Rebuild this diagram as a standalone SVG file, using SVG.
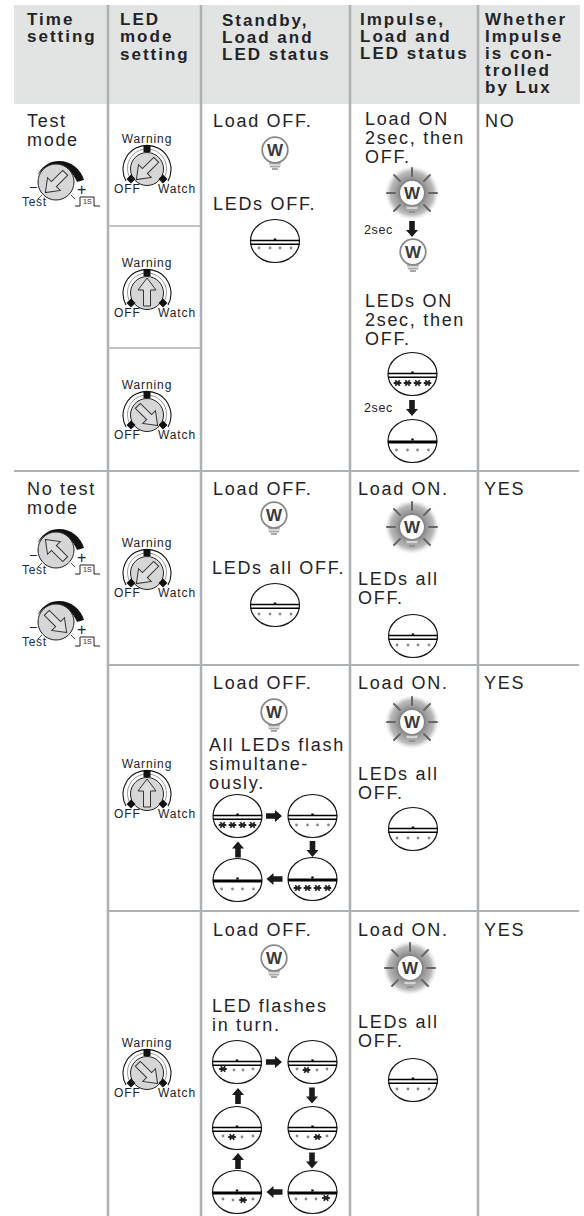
<svg xmlns="http://www.w3.org/2000/svg" width="584" height="1216" viewBox="0 0 584 1216">
<style>
text{font-family:"Liberation Sans",Arial,sans-serif;fill:#232326}
.h{font-weight:700;font-size:17px;letter-spacing:2px}
.b{font-size:18px;letter-spacing:1.7px}
.s{font-size:12.5px;letter-spacing:.6px}
.m{font-size:12px;letter-spacing:.9px}
.t{font-size:12px;letter-spacing:.7px;fill:#1d2a4a}
.grid{stroke:#adb1b3;fill:none}
.dome{fill:#fff;stroke:#111;stroke-width:1.2}
.dl{stroke:#000;stroke-width:1.6}
.dk{stroke:#000;stroke-width:3}
.bulb{fill:#fff;stroke:#888;stroke-width:1.8}
.ray{stroke:#666;stroke-width:2;stroke-linecap:round}
.disc{fill:#d6d6d6;stroke:#222;stroke-width:1}
.ptr{fill:#dedede;stroke:#333;stroke-width:1}
</style>
<defs>
<radialGradient id="halo"><stop offset="0.45" stop-color="#8a8a8a"/><stop offset="0.8" stop-color="#bbb"/><stop offset="1" stop-color="#ddd" stop-opacity="0"/></radialGradient>
<g id="star"><path d="M-3.800 0H3.800M-2.200 -2.800L2.200 2.800M2.200 -2.800L-2.200 2.800" stroke="#222" stroke-width="1.800"/></g>
<circle id="dot" r="1.400" fill="#888"/>
<path id="ar" d="M-8 -2.800H1V-6L8 0L1 6V2.800H-8Z" fill="#1a1a1a"/>
<g id="dome"><ellipse class="dome" rx="24.500" ry="21.500"/><path class="dl" d="M-24.500 -.5H24.500M-24.500 3.300H24.500"/><rect x="-1.200" y="-2.500" width="2.400" height="2" fill="#000"/></g>
<g id="domek"><ellipse class="dome" rx="24.500" ry="21.500"/><path class="dk" d="M-24.500 1H24.500"/><rect x="-1.200" y="-2.500" width="2.400" height="2" fill="#000"/></g>
<g id="d4"><use href="#dot" x="-16" y="9"/><use href="#dot" x="-5" y="9"/><use href="#dot" x="5" y="9"/><use href="#dot" x="16" y="9"/></g>
<g id="s4"><use href="#star" x="-15" y="9"/><use href="#star" x="-5" y="9"/><use href="#star" x="5" y="9"/><use href="#star" x="15" y="9"/></g>
<g id="bulb"><path d="M-6 12L-5 17.500H5L6 12Z" fill="#aaa"/><path d="M-5.500 15H5.500" stroke="#fff"/><path d="M-3 19H3" stroke="#888" stroke-width="1.500"/><circle class="bulb" r="12.800"/><text text-anchor="middle" y="6" style="font-size:17px;font-weight:700;fill:#3a3a3a">W</text></g>
<g id="lit"><circle r="27" fill="url(#halo)"/><path class="ray" d="M0 -17V-25M12 -12L18 -18M17 0H25M12 12L18 18M-12 12L-18 18M-17 0H-25M-12 -12L-18 -18"/><use href="#bulb"/></g>
<path id="ptr" class="ptr" d="M0 -15L9 -3H3.500V13H-3.500V-3H-9Z"/>
<g id="led">
<path d="M-21 12A24 24 0 1 1 21 12" fill="none" stroke="#111" stroke-width="1.100"/>
<path d="M-17 9A19.500 19.500 0 1 1 17 9" fill="none" stroke="#555" stroke-width=".6"/>
<circle class="disc" r="16.500"/>
<rect x="-3.500" y="-24" width="7" height="7" fill="#111"/>
<path d="M-16 5.500L-11.500 10L-16 14.500L-20.500 10ZM16 5.500L20.500 10L16 14.500L11.500 10Z" fill="#111"/>
<text class="m" x="0" y="-26" text-anchor="middle">Warning</text>
<text class="m" x="-33" y="24">OFF</text>
<text class="m" x="11" y="24">Watch</text>
</g>
<g id="time">
<path d="M-19 -6C-14 -17 -5 -21 3 -21C15 -21 25 -13 28 -2L21 0C17 -10 9 -17 0 -18C-8 -18 -14 -13 -19 -6Z" fill="#111"/>
<circle class="disc" r="18"/>
<path d="M-14 13L-18 17M15 13L19 17" stroke="#222" stroke-width=".8"/>
<text x="-27" y="10" style="font-size:14px">−</text>
<text x="21" y="13" style="font-size:16px">+</text>
<text class="t" x="-34" y="24">Test</text>
<path d="M19 24H24V15H38V24H44" fill="none" stroke="#222" stroke-width="1"/>
<text x="27" y="22" style="font-size:7px">1S</text>
</g>
</defs>

<g id="table">
<rect x="14" y="5" width="566" height="99" fill="#e2e3e3"/>
<path class="grid" stroke-width="2.500" d="M108 5V1216M201 5V1216M350 5V1216M478 5V1216"/>
<path class="grid" stroke-width="2.200" d="M14 471H579M108 665H579M108 911H579"/>
<path class="grid" stroke-width="1.600" d="M108 226H201M108 348H201"/>
</g>

<g id="header">
<text class="h" x="27" y="25">Time</text><text class="h" x="27" y="42">setting</text>
<text class="h" x="120" y="25">LED</text><text class="h" x="120" y="42">mode</text><text class="h" x="120" y="60">setting</text>
<text class="h" x="222" y="26">Standby,</text><text class="h" x="222" y="43">Load and</text><text class="h" x="222" y="60">LED status</text>
<text class="h" x="360" y="25">Impulse,</text><text class="h" x="360" y="42">Load and</text><text class="h" x="360" y="59">LED status</text>
<text class="h" x="485" y="25">Whether</text><text class="h" x="485" y="42">Impulse</text><text class="h" x="485" y="59">is con-</text><text class="h" x="485" y="76">trolled</text><text class="h" x="485" y="93">by Lux</text>
</g>

<g id="row-test">
<text class="b" x="27" y="127">Test</text><text class="b" x="27" y="146">mode</text>
<use href="#time" x="56" y="182"/><use href="#ptr" transform="translate(56 182) rotate(-135)"/>
<use href="#led" x="147" y="169"/><use href="#ptr" transform="translate(147 169) rotate(-135)"/>
<use href="#led" x="147" y="293"/><use href="#ptr" transform="translate(147 293)"/>
<use href="#led" x="147" y="415"/><use href="#ptr" transform="translate(147 415) rotate(135)"/>
<text class="b" x="213" y="127">Load OFF.</text>
<use href="#bulb" x="275" y="150"/>
<text class="b" x="213" y="210">LEDs OFF.</text>
<use href="#dome" x="275" y="241"/><use href="#d4" x="275" y="239"/>
<text class="b" x="365" y="125">Load ON</text><text class="b" x="365" y="144">2sec, then</text><text class="b" x="365" y="163">OFF.</text>
<use href="#lit" x="412" y="193"/>
<text class="s" x="364" y="234">2sec</text><use href="#ar" transform="translate(412 229) rotate(90)"/>
<use href="#bulb" x="413" y="252"/>
<text class="b" x="365" y="307">LEDs ON</text><text class="b" x="365" y="326">2sec, then</text><text class="b" x="365" y="345">OFF.</text>
<use href="#dome" x="412.500" y="374"/><use href="#s4" x="412.500" y="374"/>
<text class="s" x="364" y="412">2sec</text><use href="#ar" transform="translate(412 408) rotate(90)"/>
<use href="#domek" x="412.500" y="441"/><use href="#d4" x="412.500" y="441"/>
<text class="b" x="485" y="127">NO</text>
</g>

<g id="row-notest-1">
<text class="b" x="27" y="495">No test</text><text class="b" x="27" y="514">mode</text>
<use href="#time" x="56" y="550"/><use href="#ptr" transform="translate(56 550) rotate(-45)"/>
<use href="#time" x="56" y="622"/><use href="#ptr" transform="translate(56 622) rotate(135)"/>
<use href="#led" x="147" y="573"/><use href="#ptr" transform="translate(147 573) rotate(-135)"/>
<text class="b" x="213" y="495">Load OFF.</text>
<use href="#bulb" x="274" y="515"/>
<text class="b" x="212" y="574">LEDs all OFF.</text>
<use href="#dome" x="275" y="605"/><use href="#d4" x="275" y="605"/>
<text class="b" x="358" y="495">Load ON.</text>
<use href="#lit" x="412" y="527"/>
<text class="b" x="358" y="585">LEDs all</text><text class="b" x="358" y="604">OFF.</text>
<use href="#dome" x="413" y="636"/><use href="#d4" x="413" y="636"/>
<text class="b" x="484" y="495">YES</text>
</g>

<g id="row-notest-2">
<use href="#led" x="147" y="794"/><use href="#ptr" transform="translate(147 794)"/>
<text class="b" x="213" y="689">Load OFF.</text>
<use href="#bulb" x="274" y="712"/>
<text class="b" x="209" y="751">All LEDs flash</text><text class="b" x="209" y="770">simultane-</text><text class="b" x="209" y="789">ously.</text>
<use href="#dome" x="237.500" y="816"/><use href="#s4" x="237.500" y="816"/>
<use href="#ar" x="274" y="816"/>
<use href="#dome" x="312.500" y="816"/><use href="#d4" x="312.500" y="816"/>
<use href="#ar" transform="translate(312.500 849) rotate(90)"/>
<use href="#domek" x="312.500" y="879"/><use href="#s4" x="312.500" y="879"/>
<use href="#ar" transform="translate(274.500 879) rotate(180)"/>
<use href="#domek" x="237.500" y="880"/><use href="#d4" x="237.500" y="880"/>
<use href="#ar" transform="translate(238 849.500) rotate(-90)"/>
<text class="b" x="358" y="689">Load ON.</text>
<use href="#lit" x="412" y="722"/>
<text class="b" x="358" y="780">LEDs all</text><text class="b" x="358" y="799">OFF.</text>
<use href="#dome" x="413" y="829"/><use href="#d4" x="413" y="829"/>
<text class="b" x="484" y="689">YES</text>
</g>

<g id="row-notest-3">
<use href="#led" x="147" y="1073"/><use href="#ptr" transform="translate(147 1073) rotate(135)"/>
<text class="b" x="213" y="936">Load OFF.</text>
<use href="#bulb" x="274" y="958"/>
<text class="b" x="212" y="1012">LED flashes</text><text class="b" x="212" y="1031">in turn.</text>
<g id="seq">
<use href="#dome" x="237" y="1062"/><use href="#star" x="223" y="1069"/><use href="#dot" x="234" y="1070"/><use href="#dot" x="243" y="1070"/><use href="#dot" x="253" y="1069"/>
<use href="#ar" x="274" y="1062"/>
<use href="#dome" x="312.500" y="1062"/><use href="#dot" x="297" y="1069"/><use href="#star" x="306.500" y="1070"/><use href="#dot" x="317" y="1070"/><use href="#dot" x="327" y="1069"/>
<use href="#ar" transform="translate(312 1095.500) rotate(90)"/>
<use href="#dome" x="312.500" y="1128"/><use href="#dot" x="297" y="1136"/><use href="#dot" x="308" y="1137"/><use href="#star" x="317.500" y="1137"/><use href="#dot" x="327" y="1136"/>
<use href="#ar" transform="translate(312 1160.500) rotate(90)"/>
<use href="#domek" x="312.500" y="1192"/><use href="#dot" x="296" y="1199"/><use href="#dot" x="306" y="1199"/><use href="#dot" x="316" y="1199"/><use href="#star" x="326" y="1198"/>
<use href="#ar" transform="translate(274.500 1192) rotate(180)"/>
<use href="#domek" x="237" y="1192"/><use href="#dot" x="223" y="1199"/><use href="#dot" x="233" y="1200"/><use href="#star" x="243" y="1200"/><use href="#dot" x="253" y="1199"/>
<use href="#ar" transform="translate(238 1161) rotate(-90)"/>
<use href="#dome" x="237" y="1128"/><use href="#dot" x="223" y="1136"/><use href="#star" x="232" y="1137"/><use href="#dot" x="242" y="1137"/><use href="#dot" x="253" y="1136"/>
<use href="#ar" transform="translate(238 1096) rotate(-90)"/>
</g>
<text class="b" x="358" y="936">Load ON.</text>
<use href="#lit" x="410" y="968"/>
<text class="b" x="358" y="1028">LEDs all</text><text class="b" x="358" y="1047">OFF.</text>
<use href="#dome" x="413" y="1080"/><use href="#d4" x="413" y="1080"/>
<text class="b" x="484" y="936">YES</text>
</g>
</svg>
